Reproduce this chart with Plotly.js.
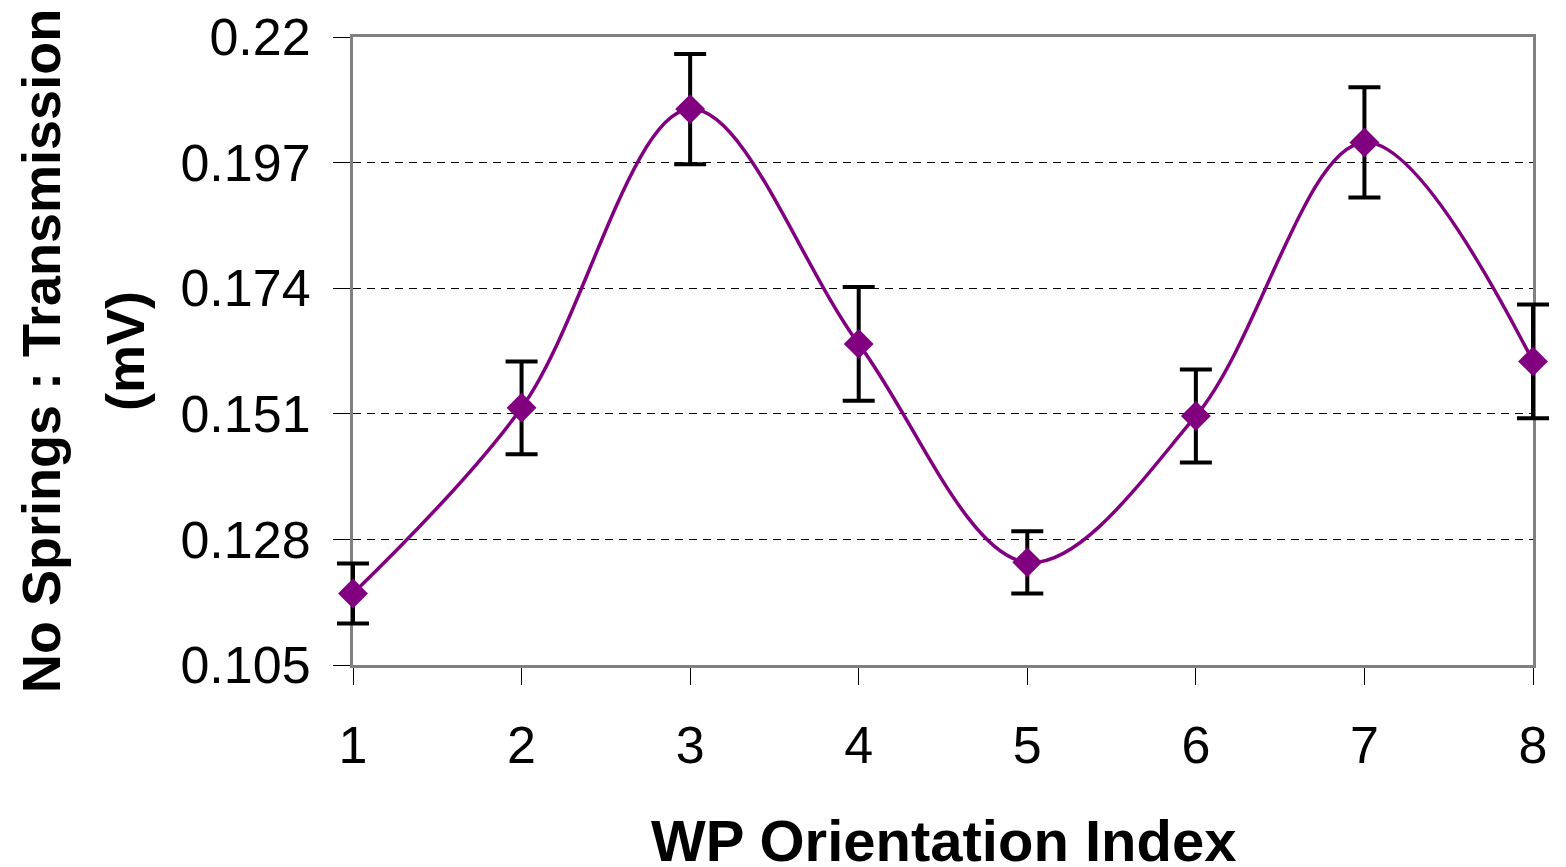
<!DOCTYPE html>
<html>
<head>
<meta charset="utf-8">
<script src="https://cdn.plot.ly/plotly-3.0.1.min.js"></script>
<style>html,body{margin:0;padding:0;background:#fff;}#chart{width:1566px;height:867px;}</style>
</head>
<body>
<div id="chart"></div>
<script>
const orientationIndex = [1, 2, 3, 4, 5, 6, 7, 8];
const transmission = [0.1181, 0.1521, 0.2068, 0.1638, 0.1238, 0.1506, 0.2007, 0.1606];
const errorValues = [0.0055, 0.0085, 0.0101, 0.0104, 0.0057, 0.0085, 0.0101, 0.0104];
const yTickVals = [0.105, 0.128, 0.151, 0.174, 0.197, 0.22];
const yTickText = ["0.105", "0.128", "0.151", "0.174", "0.197", "0.22"];
const xTickVals = [1, 2, 3, 4, 5, 6, 7, 8];
const xTickText = ["1", "2", "3", "4", "5", "6", "7", "8"];
const yTitleLine1 = "No Springs : Transmission";
const yTitleLine2 = "(mV)";
const xTitle = "WP Orientation Index";

const font = "Arial, 'Liberation Sans', sans-serif";

// pixel layout
const W = 1566, H = 867;
const plotL = 353, plotR = 1533, plotT = 37, plotB = 665;
const pad = 30; // extra room so edge error bars are not clipped
const mL = plotL - pad, mR = W - plotR - pad;
const paperW = W - mL - mR;
const xMin = 1, xMax = 8, yMin = 0.105, yMax = 0.22;
const pxPerUnit = (plotR - plotL) / (xMax - xMin);
const domA = pad / paperW, domB = (paperW - pad) / paperW;

// invisible trace that makes the framed axes subplot exist
const axesTrace = {
  x: orientationIndex,
  y: transmission,
  xaxis: "x",
  yaxis: "y",
  type: "scatter",
  mode: "markers",
  marker: {size: 1, opacity: 0},
  hoverinfo: "skip",
  showlegend: false
};

const trace = {
  x: orientationIndex,
  y: transmission,
  xaxis: "x2",
  yaxis: "y2",
  type: "scatter",
  mode: "lines+markers",
  line: {color: "#800080", width: 3.5, shape: "spline", smoothing: 1},
  marker: {symbol: "diamond", size: 23, color: "#800080"},
  error_y: {type: "data", array: errorValues, visible: true, color: "#000000", thickness: 4, width: 16},
  cliponaxis: false,
  showlegend: false
};

const layout = {
  width: W,
  height: H,
  paper_bgcolor: "#ffffff",
  plot_bgcolor: "rgba(0,0,0,0)",
  margin: {l: mL, r: mR, t: plotT, b: H - plotB},
  font: {family: font, color: "#000000"},
  xaxis: {
    domain: [domA, domB],
    range: [xMin, xMax],
    anchor: "y",
    tickvals: xTickVals,
    ticktext: xTickText,
    ticks: "outside",
    ticklen: 17,
    tickwidth: 1,
    tickcolor: "#000000",
    tickfont: {family: font, size: 52, color: "#000000"},
    ticklabelstandoff: 16,
    showgrid: false,
    zeroline: false,
    showline: true,
    linecolor: "#808080",
    linewidth: 3,
    mirror: true
  },
  yaxis: {
    range: [yMin, yMax],
    anchor: "x",
    tickvals: yTickVals,
    ticktext: yTickText,
    ticks: "outside",
    ticklen: 17,
    tickwidth: 1,
    tickcolor: "#000000",
    tickfont: {family: font, size: 52, color: "#000000"},
    ticklabelstandoff: 12,
    showgrid: true,
    gridcolor: "#000000",
    gridwidth: 1,
    griddash: "8px,6px",
    zeroline: false,
    showline: true,
    linecolor: "#808080",
    linewidth: 3,
    mirror: true
  },
  xaxis2: {
    domain: [0, 1],
    range: [xMin - pad / pxPerUnit, xMax + pad / pxPerUnit],
    anchor: "y2",
    visible: false,
    showgrid: false,
    zeroline: false
  },
  yaxis2: {
    domain: [0, 1],
    range: [yMin, yMax],
    anchor: "x2",
    visible: false,
    showgrid: false,
    zeroline: false
  },
  annotations: [
    {text: "<b>" + yTitleLine1 + "</b>", xref: "paper", yref: "paper", x: 0, y: 0.5,
     xshift: 41 - mL, xanchor: "center", yanchor: "middle", textangle: -90, showarrow: false,
     font: {family: font, size: 54, color: "#000000"}},
    {text: "<b>" + yTitleLine2 + "</b>", xref: "paper", yref: "paper", x: 0, y: 0.5,
     xshift: 125 - mL, xanchor: "center", yanchor: "middle", textangle: -90, showarrow: false,
     font: {family: font, size: 54, color: "#000000"}},
    {text: "<b>" + xTitle + "</b>", xref: "paper", yref: "paper", x: 0.5, y: 0,
     yshift: -175, xanchor: "center", yanchor: "middle", showarrow: false,
     font: {family: font, size: 58, color: "#000000"}}
  ]
};

Plotly.newPlot("chart", [axesTrace, trace], layout, {displayModeBar: false, staticPlot: true});
</script>
</body>
</html>
